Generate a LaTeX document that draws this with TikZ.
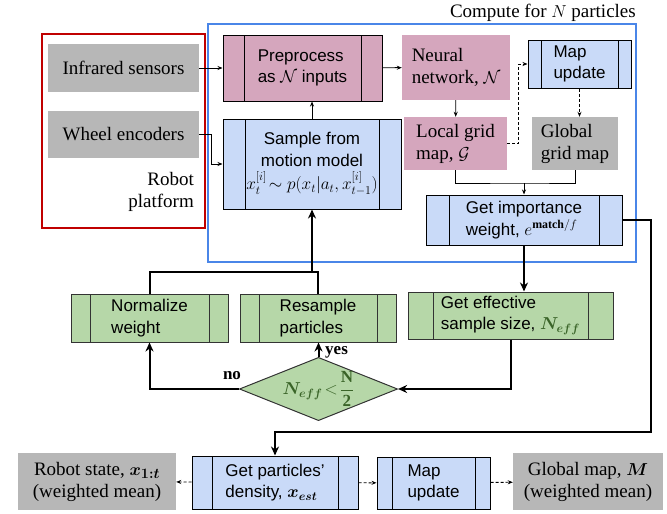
\documentclass[tikz,border=0pt]{standalone}
\usepackage{amsmath,amssymb}
\usepackage{fontspec}
\setmainfont{Liberation Serif}
\setsansfont{Liberation Sans}
\usepackage{tikz}
\usetikzlibrary{arrows.meta}
\usetikzlibrary{shapes.geometric}

\definecolor{pinkfill}{HTML}{D5A6BD}
\definecolor{bluefill}{HTML}{C9DAF8}
\definecolor{greenfill}{HTML}{B6D7A8}
\definecolor{greyfill}{HTML}{B7B7B7}
\definecolor{framered}{HTML}{C00000}
\definecolor{frameblue}{HTML}{4A86E8}
\definecolor{effgreen}{HTML}{3A6428}

\tikzset{
  procbar/.store in=\procbar, procbar=20pt,
  procbox/.style={draw, line width=1pt, path picture={
    \draw[line width=1pt] ([xshift=\procbar]path picture bounding box.north west) -- ([xshift=\procbar]path picture bounding box.south west);
    \draw[line width=1pt] ([xshift=-\procbar]path picture bounding box.north east) -- ([xshift=-\procbar]path picture bounding box.south east);}},
  serftext/.style={font=\fontsize{19}{22}\selectfont},
  sanstext/.style={font=\sffamily\fontsize{17}{21.5}\selectfont},
  labeltext/.style={font=\bfseries\fontsize{17}{20}\selectfont, inner sep=1pt},
}

\begin{document}
\begin{tikzpicture}[x=1pt,y=-1pt,
  greybox/.style={serftext, fill=greyfill, inner sep=2pt, align=center},
  pinkplain/.style={serftext, fill=pinkfill, inner sep=2pt, align=left},
  pinkbar/.style={procbox, sanstext, fill=pinkfill, align=left},
  bluebar/.style={procbox, sanstext, fill=bluefill, align=left},
  greenbar/.style={procbox, sanstext, fill=greenfill, align=left, draw=black!80},
  thinline/.style={line width=0.9pt},
  thinarrow/.style={line width=0.9pt, -{Stealth[length=5pt,width=4pt]}},
  dasharrow/.style={line width=0.9pt, dash pattern=on 3pt off 2pt, -{Stealth[length=5pt,width=4pt]}},
  thickline/.style={line width=2pt},
  thickarrow/.style={line width=2pt, -{Stealth[length=9pt,width=8pt]}}]
  \useasboundingbox (0,0) rectangle (667,514);

  %frames
  \node[draw=framered, line width=2pt, minimum width=163pt, minimum height=194pt] (platform) at (123.5,131) {};
  \node[draw=frameblue, line width=2pt, minimum width=428pt, minimum height=238pt] (particles) at (422,143) {};
  \node[serftext, anchor=south east, inner sep=1pt] (computelbl) at (particles.north east) {Compute for $N$ particles};

  %robot platform
  \node[greybox, minimum width=151pt, minimum height=48pt] (infra) at (123.5,68) {Infrared sensors};
  \node[greybox, minimum width=151pt, minimum height=47pt] (wheel) at (123.5,134.5) {Wheel encoders};
  \node[serftext, align=right, anchor=east, inner sep=0pt] (platformlbl) at (194,192) {Robot\\platform};

  %per particle
  \node[pinkbar, procbar=21pt, minimum width=159pt, minimum height=66pt] (prep) at (302.5,68) {Preprocess\\as $\mathcal{N}$ inputs};
  \node[bluebar, procbar=22pt, align=center, minimum width=178pt, minimum height=90pt, inner sep=1pt] (sample) at (312,164) {Sample from\\motion model\\[2pt]$x_t^{[i]}\!\sim p(x_t|a_t,x_{t-1}^{[i]})$};
  \node[pinkplain, minimum width=108pt, minimum height=65pt] (neural) at (456,67.5) {Neural\\network, $\mathcal{N}$};
  \node[bluebar, procbar=13pt, minimum width=103pt, minimum height=48pt] (mapup) at (579.5,64) {Map\\update};
  \node[pinkplain, minimum width=103pt, minimum height=53pt] (local) at (455.5,143.5) {Local grid\\map, $\mathcal{G}$};
  \node[greybox, align=left, minimum width=86pt, minimum height=53pt] (global) at (575,143.5) {Global\\grid map};
  \node[bluebar, procbar=23pt, minimum width=196pt, minimum height=50pt] (weight) at (524,220) {Get importance\\weight, $e^{\mathbf{match}/f}$};

  %resampling
  \node[greenbar, procbar=19pt, minimum width=157pt, minimum height=48pt] (norm) at (149.5,318) {Normalize\\weight};
  \node[greenbar, procbar=19pt, minimum width=156pt, minimum height=48pt] (resample) at (318,318) {Resample\\particles};
  \node[greenbar, procbar=25pt, minimum width=205pt, minimum height=47pt] (eff) at (510.5,315.5) {Get effective\\sample size, \textcolor{effgreen}{$\boldsymbol{N_{eff}}$}};
  \node[diamond, draw=black!80, line width=1pt, fill=greenfill, shape aspect=2.5, inner sep=0pt, minimum width=147pt, minimum height=58pt, text=effgreen, font=\fontsize{17}{20}\selectfont] (cond) at (318.5,389) {$\boldsymbol{N_{eff}}\!<\!\dfrac{\mathbf{N}}{\mathbf{2}}$};

  %output
  \node[greybox, minimum width=158pt, minimum height=57pt] (state) at (97,481.5) {Robot state, $\boldsymbol{x}_{\boldsymbol{1:t}}$\\(weighted mean)};
  \node[bluebar, procbar=20pt, minimum width=166pt, minimum height=53pt] (dens) at (275,482.5) {Get particles'\\density, $\boldsymbol{x}_{\boldsymbol{est}}$};
  \node[bluebar, procbar=15pt, minimum width=113pt, minimum height=52pt] (mapup2) at (433.5,483) {Map\\update};
  \node[greybox, minimum width=150pt, minimum height=57pt] (gmap) at (588,481.5) {Global map, $\boldsymbol{M}$\\(weighted mean)};

  %connectors top
  \draw[thinarrow] (infra) -- (prep);
  \draw[thinarrow] (wheel.east) -- ++(12,0) |- (sample.west);
  \draw[thinarrow] (sample.north) -- (sample.north |- prep.south);
  \draw[thinarrow] (prep) -- (neural);
  \draw[thinarrow] (neural) -- (local);
  \draw[dasharrow] (local.east) -- ++(11,0) |- (mapup.west);
  \draw[dasharrow] (mapup) -- (mapup |- global.north);
  \coordinate (merge) at (524,183);
  \draw[thinline] (local.south) |- (merge) -| (global.south);
  \draw[thinarrow] (merge) -- (weight);

  %connectors loop
  \draw[thickarrow] (weight.south) -- (weight.south |- eff.north);
  \draw[thickarrow] (eff.south) |- (cond.east);
  \draw[thickarrow] (cond.west) -| (norm.south);
  \draw[thickarrow] (cond.north) -- (cond.north |- resample.south);
  \node[labeltext] (nolbl) at (232,376) {no};
  \node[labeltext, anchor=west] (yeslbl) at (324,352) {yes};
  \coordinate (loop) at (312,272);
  \draw[thickline] (norm.north) |- (loop);
  \draw[thickline] (resample.north) |- (loop);
  \draw[thickarrow] (loop) -- (sample.south);

  %connectors bottom
  \coordinate (turn) at (651,432);
  \draw[thickarrow] (weight.east) -| (turn) -| (dens.north);
  \draw[dasharrow] (dens) -- (state);
  \draw[dasharrow] (dens) -- (mapup2);
  \draw[dasharrow] (mapup2) -- (gmap);
\end{tikzpicture}
\end{document}
